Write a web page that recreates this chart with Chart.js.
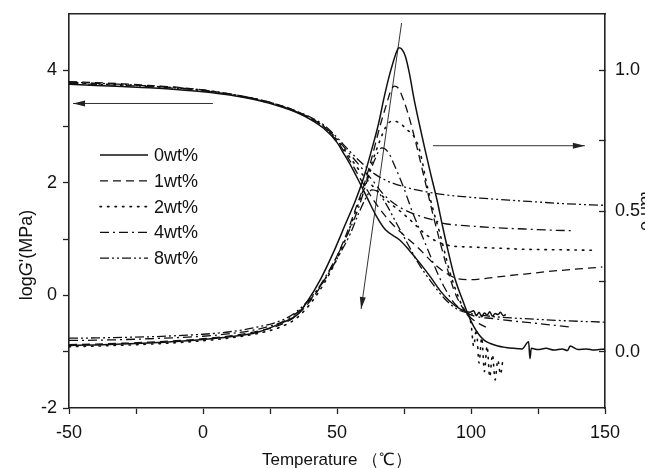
<!DOCTYPE html>
<html>
<head>
<meta charset="UTF-8">
<title>logG' / tan δ vs temperature</title>
<script src="https://cdn.jsdelivr.net/npm/chart.js@4"></script>
<style>
  html, body { margin: 0; padding: 0; background: #fff; overflow: hidden; }
  #wrap { width: 645px; height: 468px; }
</style>
</head>
<body>
<div id="wrap"><canvas id="chart"></canvas></div>
<script>
// ---- values ----
const seriesLabels = ['0wt%', '1wt%', '2wt%', '4wt%', '8wt%'];

const xTicks = [-50, -25, 0, 25, 50, 75, 100, 125, 150];
const yTicks = [-2, -1, 0, 1, 2, 3, 4];
const y2Ticks = [0, 0.25, 0.5, 0.75, 1.0];

// log G' (left axis)
const g0T = [-50,-40,-30,-20,-10,0,10,20,30,35,40,45,50,52.4,55,58.6,61,64.8,68,73.5,77,81,85,88.4,92,95.9,99.6,101,102,103,104,105,106,107,108,109,110,111,112,113];
const g0  = [3.75,3.73,3.71,3.69,3.66,3.62,3.56,3.47,3.34,3.25,3.13,2.97,2.72,2.53,2.32,1.99,1.76,1.40,1.17,0.98,0.80,0.57,0.32,0.09,-0.10,-0.24,-0.30,-0.27,-0.36,-0.30,-0.38,-0.31,-0.35,-0.29,-0.37,-0.32,-0.34,-0.30,-0.36,-0.34];
const g1T = [-50,-40,-30,-20,-10,0,10,20,30,35,40,45,50,55,60,65,70,75,80,86,90.9,94.7,99.6,105,110,120,130,140,149];
const g1  = [3.80,3.78,3.76,3.73,3.70,3.65,3.58,3.49,3.36,3.27,3.15,3.00,2.74,2.38,1.97,1.60,1.30,1.07,0.86,0.57,0.39,0.30,0.28,0.30,0.33,0.38,0.43,0.47,0.505];
const g2T = [-50,-40,-30,-20,-10,0,10,20,30,35,40,45,50,55,60,65,70,73.5,78,82,86,90,93.4,100,110,120,135,147];
const g2  = [3.78,3.76,3.74,3.72,3.69,3.64,3.57,3.48,3.35,3.26,3.15,3.00,2.76,2.44,2.12,1.86,1.63,1.50,1.31,1.13,0.99,0.91,0.875,0.86,0.84,0.82,0.81,0.80];
const g4T = [-50,-40,-30,-20,-10,0,10,20,30,35,40,45,50,55,60,63,67.3,72,77,81,85.9,89.7,95,103.4,110,120,130,137.6];
const g4  = [3.77,3.75,3.73,3.71,3.68,3.64,3.57,3.48,3.35,3.26,3.15,3.01,2.78,2.50,2.22,2.06,1.80,1.61,1.48,1.41,1.34,1.28,1.25,1.22,1.20,1.18,1.16,1.15];
const g8T = [-50,-40,-30,-20,-10,0,10,20,30,35,40,45,48.5,55,60,64,68.5,75,83.4,90,103.4,115,125,135,150];
const g8  = [3.79,3.77,3.75,3.72,3.69,3.65,3.58,3.49,3.36,3.27,3.17,3.03,2.88,2.55,2.32,2.16,2.04,1.93,1.84,1.79,1.73,1.69,1.66,1.63,1.60];

// tan delta (right axis)
const t0T = [-50,-40,-30,-20,-10,0,10,20,30,35,39,44,49,53,57,60,63,65.5,67.5,69.5,71,72.2,73.1,74.2,75.5,77,78.7,80.7,82.8,85,87.3,89.3,91.4,94,97,99,101,103,105,107,110,113,116,119,121.5,122,122.5,125,128,131,134,136,137,140,143,146,150];
const t0  = [0.022,0.024,0.027,0.031,0.036,0.043,0.053,0.068,0.105,0.13,0.18,0.26,0.36,0.45,0.54,0.62,0.72,0.81,0.90,0.98,1.03,1.065,1.08,1.075,1.05,0.99,0.90,0.81,0.72,0.63,0.54,0.45,0.36,0.26,0.18,0.13,0.09,0.06,0.04,0.03,0.02,0.015,0.012,0.01,0.035,-0.025,0.012,0.008,0.012,0.006,0.01,0.004,0.02,0.008,0.01,0.006,0.01];
const t1T = [-50,-40,-30,-20,-10,0,10,20,30,35,40,45,50,54,57,60,63,66,68.5,70,71.4,73,75,77,80,83,86,89,91,94,97,100,103,106];
const t1  = [0.025,0.027,0.03,0.034,0.039,0.046,0.056,0.072,0.1,0.13,0.18,0.25,0.34,0.43,0.51,0.59,0.69,0.80,0.88,0.925,0.944,0.935,0.89,0.83,0.72,0.60,0.48,0.37,0.30,0.21,0.155,0.12,0.10,0.085];
const t2T = [-50,-40,-30,-20,-10,0,10,20,30,35,40,45,50,54,57,60,63,66,68,70.4,73,76,79,81,83.4,86,88.4,90,92.2,95.9,98,100,101,102,103,104,105,106,107,108,109,110,111,112];
const t2  = [0.018,0.02,0.023,0.027,0.032,0.039,0.049,0.064,0.092,0.12,0.17,0.24,0.33,0.42,0.50,0.58,0.67,0.75,0.795,0.819,0.815,0.79,0.76,0.71,0.60,0.50,0.42,0.36,0.28,0.18,0.14,0.10,0.02,0.08,-0.04,0.05,-0.07,0.02,-0.09,-0.01,-0.10,-0.03,-0.08,-0.02];
const t4T = [-50,-40,-30,-20,-10,0,10,20,30,35,40,45,50,55,58,61,64,66.7,69,72,75,78,81,84,87,90,94,98,102,108,115,122,130,137.6];
const t4  = [0.04,0.041,0.043,0.046,0.05,0.055,0.064,0.079,0.108,0.138,0.185,0.255,0.34,0.44,0.51,0.60,0.68,0.724,0.71,0.65,0.58,0.50,0.43,0.36,0.29,0.23,0.17,0.14,0.125,0.118,0.11,0.103,0.095,0.087];
const t8T = [-50,-40,-30,-20,-10,0,10,20,30,35,40,45,50,55,58,61,63,65,68,72,76,80,85,90,95,100,106,115,125,135,150];
const t8  = [0.048,0.049,0.051,0.053,0.057,0.062,0.071,0.087,0.114,0.143,0.19,0.25,0.33,0.42,0.49,0.55,0.575,0.57,0.53,0.46,0.39,0.32,0.25,0.19,0.15,0.135,0.127,0.12,0.115,0.11,0.105];

// annotation arrows (start, end)
const arrowLeftT = [3.7, -48.5],  arrowLeftY = [3.41, 3.41];
const arrowRightT = [85.8, 142.5], arrowRightY = [2.66, 2.66];
const arrowPeakT = [74.1, 59.0],  arrowPeakY = [1.168, 0.152];

// ---- styles ----
const dashes = [[], [8, 5], [1.5, 6], [9, 4, 2, 4], [9, 3, 2, 3, 2, 3]];
const widths = [1.5, 1.3, 1.6, 1.3, 1.3];
const FONT = "'Liberation Sans', Arial, sans-serif";

const pts = (xs, ys) => xs.map((x, i) => ({ x: x, y: ys[i] }));

const gSets = [[g0T, g0], [g1T, g1], [g2T, g2], [g4T, g4], [g8T, g8]];
const tSets = [[t0T, t0], [t1T, t1], [t2T, t2], [t4T, t4], [t8T, t8]];

const datasets = [];
gSets.forEach((s, i) => datasets.push({
  label: seriesLabels[i], data: pts(s[0], s[1]), yAxisID: 'y',
  borderColor: '#111', borderWidth: widths[i], borderDash: dashes[i],
  borderCapStyle: i === 2 ? 'round' : 'butt',
  pointRadius: 0, cubicInterpolationMode: 'monotone', fill: false
}));
tSets.forEach((s, i) => datasets.push({
  label: seriesLabels[i] + ' tanδ', data: pts(s[0], s[1]), yAxisID: 'y2',
  borderColor: '#111', borderWidth: widths[i], borderDash: dashes[i],
  borderCapStyle: i === 2 ? 'round' : 'butt',
  pointRadius: 0, cubicInterpolationMode: 'monotone', fill: false
}));
[[arrowLeftT, arrowLeftY, 'y'], [arrowRightT, arrowRightY, 'y'], [arrowPeakT, arrowPeakY, 'y2']].forEach(a => datasets.push({
  label: 'arrow', data: pts(a[0], a[1]), yAxisID: a[2], arrow: true,
  borderColor: '#333', borderWidth: 1, pointRadius: 0, tension: 0, fill: false
}));

// arrowheads, in-plot legend and the left title with italic G
const decor = {
  id: 'decor',
  afterDatasetsDraw(chart) {
    const ctx = chart.ctx;
    chart.data.datasets.forEach((ds, i) => {
      if (!ds.arrow) return;
      const p = chart.getDatasetMeta(i).data;
      const a = p[p.length - 2], b = p[p.length - 1];
      const ang = Math.atan2(b.y - a.y, b.x - a.x);
      ctx.save();
      ctx.translate(b.x, b.y);
      ctx.rotate(ang);
      ctx.beginPath();
      ctx.moveTo(0, 0);
      ctx.lineTo(-12, -3);
      ctx.lineTo(-12, 3);
      ctx.closePath();
      ctx.fillStyle = '#222';
      ctx.fill();
      ctx.restore();
    });

    // legend
    ctx.save();
    ctx.font = '18px ' + FONT;
    ctx.fillStyle = '#111';
    ctx.textBaseline = 'middle';
    seriesLabels.forEach((lab, i) => {
      const y = 155 + i * 25.8;
      ctx.beginPath();
      ctx.setLineDash(dashes[i]);
      ctx.lineWidth = widths[i];
      ctx.lineCap = i === 2 ? 'round' : 'butt';
      ctx.strokeStyle = '#111';
      ctx.moveTo(100, y);
      ctx.lineTo(148, y);
      ctx.stroke();
      ctx.setLineDash([]);
      ctx.fillText(lab, 154, y + 1);
    });
    ctx.restore();

    // y title: log G'(MPa)
    ctx.save();
    ctx.translate(27, 255);
    ctx.rotate(-Math.PI / 2);
    ctx.fillStyle = '#111';
    ctx.textBaseline = 'middle';
    const parts = [['log', ''], ['G', 'italic '], ["'(MPa)", '']];
    let total = 0;
    parts.forEach(p => { ctx.font = p[1] + '18px ' + FONT; total += ctx.measureText(p[0]).width; });
    let x = -total / 2;
    parts.forEach(p => {
      ctx.font = p[1] + '18px ' + FONT;
      ctx.fillText(p[0], x, 0);
      x += ctx.measureText(p[0]).width;
    });
    ctx.restore();
  }
};

const tickFont = { family: FONT, size: 18 };
const axisColor = '#222';
const noPad = s => { s.paddingTop = 0; s.paddingBottom = 0; };

new Chart(document.getElementById('chart'), {
  type: 'line',
  data: { datasets: datasets },
  plugins: [decor],
  options: {
    responsive: true,
    maintainAspectRatio: false,
    animation: false,
    devicePixelRatio: 1,
    layout: { padding: { top: 14, left: 0, right: 0, bottom: 0 } },
    plugins: { legend: { display: false }, tooltip: { enabled: false } },
    scales: {
      x: {
        type: 'linear', position: 'bottom', min: -50, max: 150,
        afterBuildTicks: s => { s.ticks = xTicks.map(v => ({ value: v })); },
        ticks: { font: tickFont, color: '#111', padding: 8, maxRotation: 0, autoSkip: false,
          callback: v => (v % 50 === 0 ? String(v) : '') },
        grid: { drawOnChartArea: false, tickLength: 6, tickColor: axisColor, tickWidth: 1.3 },
        border: { color: axisColor, width: 1.6 },
        title: { display: true, text: 'Temperature （℃）', color: '#111',
          font: { family: FONT, size: 17 }, padding: { top: 0, bottom: -3 } },
        afterFit: s => { s.height = 60; s.paddingLeft = 0; s.paddingRight = 0; }
      },
      x2: {
        type: 'linear', position: 'top', min: -50, max: 150,
        ticks: { display: false },
        grid: { drawOnChartArea: false, drawTicks: false },
        border: { color: axisColor, width: 1.6 },
        afterFit: s => { s.height = 0; s.paddingLeft = 0; s.paddingRight = 0; }
      },
      y: {
        type: 'linear', position: 'left', min: -2, max: 5,
        afterBuildTicks: s => { s.ticks = yTicks.map(v => ({ value: v })); },
        ticks: { font: tickFont, color: '#111', padding: 6, autoSkip: false,
          callback: v => (v % 2 === 0 ? String(v) : '') },
        grid: { drawOnChartArea: false, tickLength: 6, tickColor: axisColor, tickWidth: 1.3 },
        border: { color: axisColor, width: 1.6 },
        afterFit: s => { s.width = 69; noPad(s); }
      },
      y2: {
        type: 'linear', position: 'right', min: -0.2, max: 1.2,
        afterBuildTicks: s => { s.ticks = y2Ticks.map(v => ({ value: v })); },
        ticks: { font: tickFont, color: '#111', padding: 16, autoSkip: false,
          callback: v => (Math.abs(v * 2 - Math.round(v * 2)) < 1e-6 ? v.toFixed(1) : '') },
        grid: { drawOnChartArea: false, tickLength: -6, tickColor: axisColor, tickWidth: 1.3 },
        border: { color: axisColor, width: 1.6 },
        title: { display: true, text: 'tan δ', color: '#111',
          font: { family: FONT, size: 18 }, padding: { top: -12, bottom: 0 } },
        afterFit: s => { s.width = 40; noPad(s); }
      }
    }
  }
});
</script>
</body>
</html>
